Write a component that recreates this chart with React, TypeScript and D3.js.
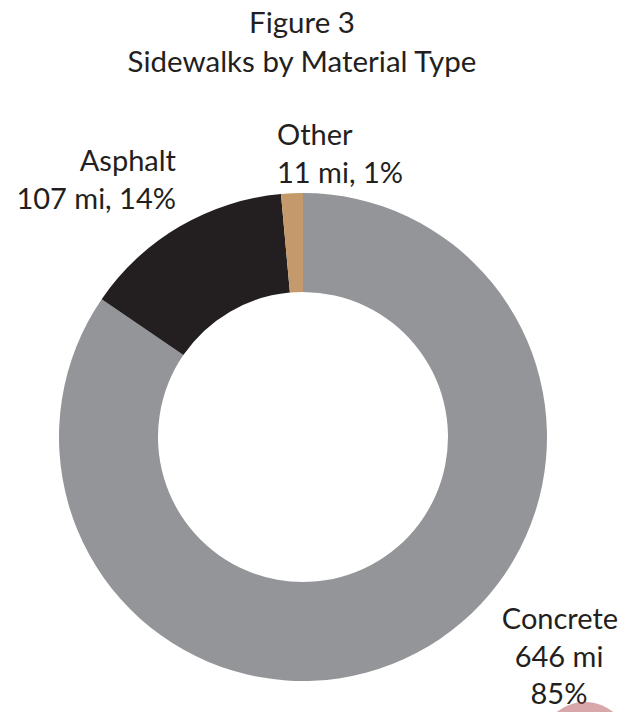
import React from "react";
import * as d3 from "d3";

const categories = ["Concrete", "Asphalt", "Other"];
const miles = [646, 107, 11];
const percents = [85, 14, 1];
const colors = ["#939598", "#231f20", "#c49a6c"];
const titleLines = ["Figure 3", "Sidewalks by Material Type"];

const W = 620;
const H = 712;
const cx = 303;
const cy = 437;
const outerR = 244;
const innerR = 145;
const FONT = "Lato, 'Open Sans', sans-serif";
const TEXT = "#231f20";

export default function App() {
  const pie = d3
    .pie<number>()
    .sort(null)
    .value((d) => d)
    .startAngle(0)
    .endAngle(2 * Math.PI);
  const arcs = pie(miles);
  const arc = d3.arc<d3.PieArcDatum<number>>().innerRadius(innerR).outerRadius(outerR);

  const fs = 29;
  return (
    <svg
      width={W}
      height={H}
      style={{ position: "absolute", left: 0, top: 0, background: "#fff" }}
      fontFamily={FONT}
    >
      <rect width={W} height={H} fill="#fff" />
      {titleLines.map((t, i) => (
        <text key={t} x={302} y={33 + i * 39} textAnchor="middle" fontSize={29.5} fill={TEXT}>
          {t}
        </text>
      ))}
      <g transform={`translate(${cx},${cy})`}>
        {arcs.map((a, i) => (
          <path key={categories[i]} d={arc(a) || ""} fill={colors[i]} />
        ))}
      </g>
      {/* Concrete label */}
      <g fontSize={fs} fill={TEXT} textAnchor="middle">
        <text x={560} y={629}>{categories[0]}</text>
        <text x={559} y={667}>{`${miles[0]} mi`}</text>
        <text x={559} y={704}>{`${percents[0]}%`}</text>
      </g>
      {/* Asphalt label */}
      <g fontSize={fs} fill={TEXT} textAnchor="end">
        <text x={176} y={171}>{categories[1]}</text>
        <text x={176} y={209}>{`${miles[1]} mi, ${percents[1]}%`}</text>
      </g>
      {/* Other label */}
      <g fontSize={fs} fill={TEXT} textAnchor="start">
        <text x={277} y={145}>{categories[2]}</text>
        <text x={277} y={183}>{`${miles[2]} mi, ${percents[2]}%`}</text>
      </g>
      <circle cx={585} cy={747} r={45} fill="#b14f55" opacity={0.5} />
    </svg>
  );
}
